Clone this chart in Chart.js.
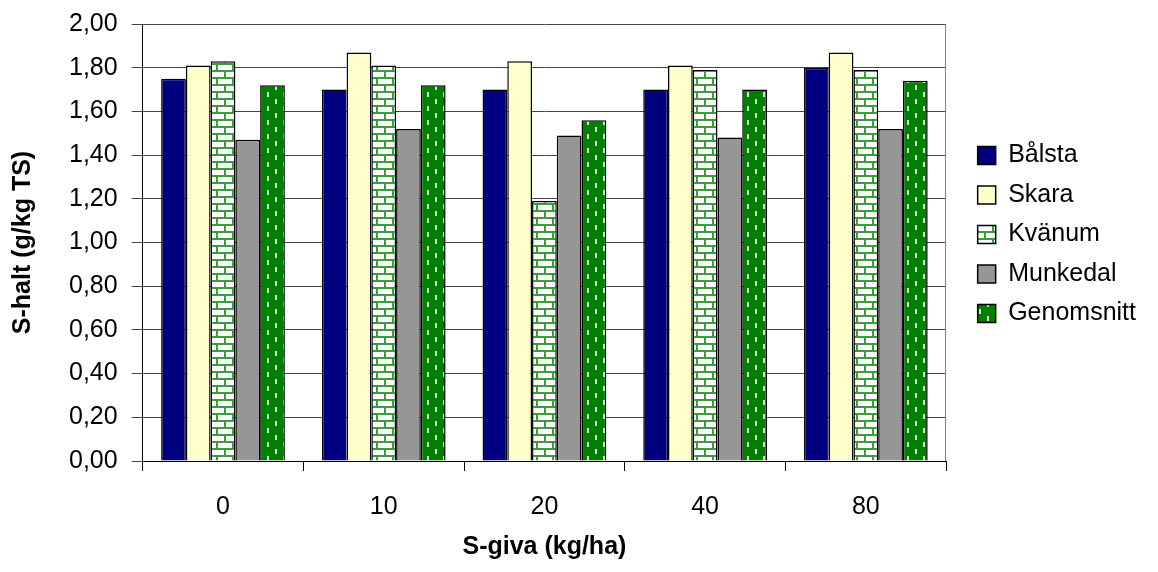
<!DOCTYPE html>
<html lang="sv">
<head>
<meta charset="UTF-8">
<title>S-halt</title>
<script src="https://cdn.jsdelivr.net/npm/chart.js"></script>
<style>
  body { margin: 0; background: #fff; }
  .wrap { position: relative; width: 1158px; height: 572px; }
</style>
</head>
<body>
<div class="wrap"><canvas id="chart"></canvas></div>
<script>
// S-giva (kg/ha) på x-axeln, S-halt (g/kg TS) per försöksplats
const categories = ['0', '10', '20', '40', '80'];
const balsta     = [1.75, 1.70, 1.70, 1.70, 1.80];
const skara      = [1.81, 1.87, 1.83, 1.81, 1.87];
const kvanum     = [1.83, 1.81, 1.19, 1.79, 1.79];
const munkedal   = [1.47, 1.52, 1.49, 1.48, 1.52];
const genomsnitt = [1.72, 1.72, 1.56, 1.70, 1.74];
const yMax = 2.0;
const yStep = 0.2;

Chart.defaults.font.family = 'Arial, "Liberation Sans", sans-serif';
Chart.defaults.color = '#000';

// tegelmönster (Kvänum)
function brickPattern() {
  const c = document.createElement('canvas');
  c.width = 16; c.height = 14;
  const g = c.getContext('2d');
  g.fillStyle = '#fff';
  g.fillRect(0, 0, 16, 14);
  g.fillStyle = '#3a9c3a';
  g.fillRect(0, 0, 16, 2);
  g.fillRect(0, 7, 16, 2);
  g.fillRect(0, 0, 2, 7);
  g.fillRect(8, 7, 2, 7);
  return g.createPattern(c, 'repeat');
}

// grönt med ljusa streck (Genomsnitt)
function dashPattern() {
  const c = document.createElement('canvas');
  c.width = 16; c.height = 14;
  const g = c.getContext('2d');
  g.fillStyle = '#008000';
  g.fillRect(0, 0, 16, 14);
  g.fillStyle = '#cfeacf';
  g.fillRect(3, 1, 2, 5);
  g.fillRect(11, 8, 2, 5);
  return g.createPattern(c, 'repeat');
}

// grå ram till höger om diagramytan
const plotFrame = {
  id: 'plotFrame',
  beforeDatasetsDraw(chart) {
    const { ctx, chartArea: a } = chart;
    ctx.save();
    ctx.strokeStyle = '#808080';
    ctx.lineWidth = 1;
    ctx.beginPath();
    ctx.moveTo(Math.round(a.right) - 0.5, a.top);
    ctx.lineTo(Math.round(a.right) - 0.5, a.bottom);
    ctx.stroke();
    ctx.restore();
  }
};

// flyttar förklaringen en bit från diagramytan
const legendShift = {
  id: 'legendShift',
  afterLayout(chart, args, opts) {
    const lg = chart.legend;
    if (!lg) return;
    lg.left += opts.dx; lg.right += opts.dx;
    lg.top += opts.dy; lg.bottom += opts.dy;
  }
};

const barStyle = { borderColor: '#000', borderWidth: 1.5, categoryPercentage: 0.77, barPercentage: 1.0 };

new Chart(document.getElementById('chart'), {
  type: 'bar',
  data: {
    labels: categories,
    datasets: [
      { label: 'Bålsta', data: balsta, backgroundColor: '#000080', ...barStyle },
      { label: 'Skara', data: skara, backgroundColor: '#ffffcc', ...barStyle },
      { label: 'Kvänum', data: kvanum, backgroundColor: brickPattern(), ...barStyle },
      { label: 'Munkedal', data: munkedal, backgroundColor: '#969696', ...barStyle },
      { label: 'Genomsnitt', data: genomsnitt, backgroundColor: dashPattern(), ...barStyle }
    ]
  },
  options: {
    responsive: true,
    maintainAspectRatio: false,
    animation: false,
    layout: { padding: { left: 8, right: 29, top: 3, bottom: 6 } },
    plugins: {
      tooltip: { enabled: false },
      legendShift: { dx: 17, dy: -8 },
      legend: {
        position: 'right',
        fullSize: false,
        labels: {
          font: { size: 25 },
          color: '#000',
          boxWidth: 18,
          boxHeight: 18,
          padding: 14.5
        }
      }
    },
    scales: {
      x: {
        offset: true,
        grid: { offset: true, drawOnChartArea: false, tickLength: 10, color: '#000' },
        border: { color: '#000' },
        ticks: { font: { size: 25 }, padding: 21 },
        title: { display: true, text: 'S-giva (kg/ha)', font: { size: 25, weight: 'bold' }, padding: { top: -11, bottom: 4 } }
      },
      y: {
        min: 0,
        max: yMax,
        afterFit: s => { s.paddingTop = 24; },
        ticks: {
          stepSize: yStep,
          font: { size: 25 },
          padding: 14,
          callback: v => v.toFixed(2).replace('.', ',')
        },
        grid: { color: '#444', tickLength: 11 },
        border: { color: '#000' },
        title: { display: true, text: 'S-halt (g/kg TS)', font: { size: 25, weight: 'bold' }, padding: { top: 0, bottom: 17 } }
      }
    }
  },
  plugins: [plotFrame, legendShift]
});
</script>
</body>
</html>
